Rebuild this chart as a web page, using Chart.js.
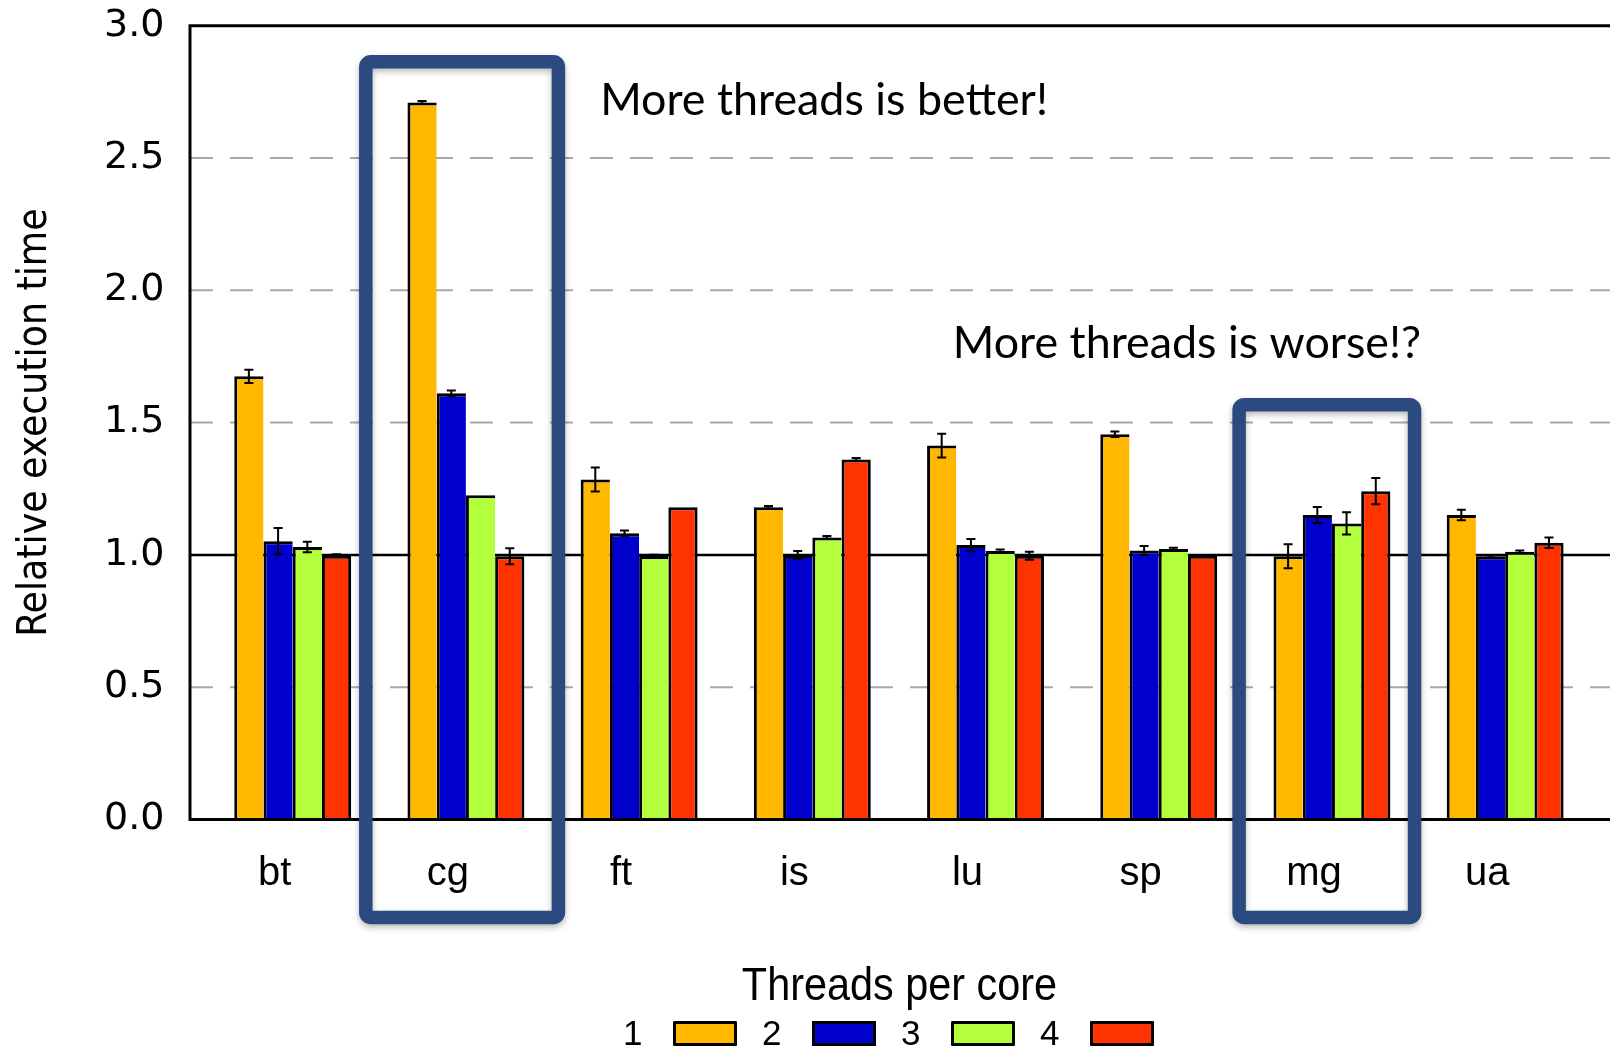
<!DOCTYPE html>
<html>
<head>
<meta charset="utf-8">
<script src="https://cdn.jsdelivr.net/npm/chart.js@4.4.0/dist/chart.umd.min.js"></script>
<style>
  html, body { margin: 0; padding: 0; background: #fff; overflow: hidden; }
  #wrap { position: absolute; left: 0; top: 0; width: 1700px; height: 1048px; }
</style>
</head>
<body>
<div id="wrap"><canvas id="c" width="1700" height="1048"></canvas></div>
<script>
// NAS benchmarks, execution time relative to the best configuration
const categories = ['bt', 'cg', 'ft', 'is', 'lu', 'sp', 'mg', 'ua'];
const seriesLabels = ['1', '2', '3', '4'];
const threads1 = [1.675, 2.710, 1.285, 1.180, 1.413, 1.456, 0.995, 1.151];
const threads2 = [1.052, 1.611, 1.082, 1.000, 1.037, 1.017, 1.151, 0.995];
const threads3 = [1.030, 1.225, 0.996, 1.066, 1.015, 1.022, 1.119, 1.012];
const threads4 = [0.997, 0.995, 1.180, 1.361, 0.997, 0.997, 1.241, 1.046];
// half-width of the error bars
const err1 = [0.025, 0.005, 0.045, 0.005, 0.045, 0.010, 0.045, 0.020];
const err2 = [0.050, 0.010, 0.010, 0.015, 0.023, 0.017, 0.030, 0.005];
const err3 = [0.020, 0.000, 0.005, 0.005, 0.005, 0.005, 0.042, 0.005];
const err4 = [0.005, 0.030, 0.000, 0.005, 0.015, 0.000, 0.050, 0.020];
const yTickStep = 0.5;
const yMin = 0, yMax = 3;

const seriesValues = [threads1, threads2, threads3, threads4];
const seriesErrors = [err1, err2, err3, err4];
const seriesColors = ['#FFB700', '#0000CD', '#B3FF3C', '#FF3300'];

const SANS = '"Liberation Sans", Arial, sans-serif';
const WIDE = '"DejaVu Sans", sans-serif';
const COND = '"DejaVu Sans Condensed", "Liberation Sans", sans-serif';
const PLOT_TOP = 25.7;

// dashed grid + reference line at 1.0 drawn under the bars
const gridPlugin = {
  id: 'gridLines',
  beforeDatasetsDraw(chart) {
    const { ctx, chartArea: a, scales: { y } } = chart;
    ctx.save();
    y.ticks.forEach(t => {
      if (t.value <= yMin || t.value >= yMax) return;
      const py = y.getPixelForValue(t.value);
      ctx.beginPath();
      if (t.value === 1) {
        ctx.setLineDash([]);
        ctx.strokeStyle = '#000';
        ctx.lineWidth = 2.5;
      } else {
        ctx.setLineDash([23, 17]);
        ctx.strokeStyle = '#a8a8a8';
        ctx.lineWidth = 2;
      }
      ctx.moveTo(a.left, py);
      ctx.lineTo(a.right, py);
      ctx.stroke();
    });
    ctx.restore();
  }
};

// plot frame and error bars
const overlayPlugin = {
  id: 'overlay',
  afterDatasetsDraw(chart) {
    const { ctx, chartArea: a, scales: { y } } = chart;
    ctx.save();
    ctx.strokeStyle = '#000';
    ctx.lineWidth = 2;
    seriesErrors.forEach((errs, i) => {
      const meta = chart.getDatasetMeta(i);
      meta.data.forEach((bar, j) => {
        const v = seriesValues[i][j], e = errs[j];
        if (!e) return;
        const y0 = y.getPixelForValue(v - e), y1 = y.getPixelForValue(v + e);
        ctx.beginPath();
        ctx.moveTo(bar.x, y0); ctx.lineTo(bar.x, y1);
        ctx.moveTo(bar.x - 4.5, y0); ctx.lineTo(bar.x + 4.5, y0);
        ctx.moveTo(bar.x - 4.5, y1); ctx.lineTo(bar.x + 4.5, y1);
        ctx.stroke();
      });
    });
    ctx.lineWidth = 3;
    ctx.beginPath();
    ctx.moveTo(a.right + 2, a.top);
    ctx.lineTo(a.left, a.top);
    ctx.lineTo(a.left, a.bottom);
    ctx.lineTo(a.right + 2, a.bottom);
    ctx.stroke();
    ctx.restore();
  }
};

// highlight boxes and their captions, in data coordinates
const highlights = [
  { x0: 1 - 0.578, x1: 1 + 0.534, y0: -0.37, y1: 2.864 },
  { x0: 6 - 0.536, x1: 6 + 0.477, y0: -0.37, y1: 1.567 }
];
const captions = [
  { text: 'More threads is better!', x: 1.775, y: 2.662 },
  { text: 'More threads is worse!?', x: 3.811, y: 1.743 }
];

const annotationPlugin = {
  id: 'annotations',
  afterDraw(chart) {
    const { ctx, scales: { x, y } } = chart;
    ctx.save();
    highlights.forEach(h => {
      const l = x.getPixelForValue(h.x0), r = x.getPixelForValue(h.x1);
      const t = y.getPixelForValue(h.y1), b = y.getPixelForValue(h.y0);
      ctx.shadowColor = 'rgba(0,0,0,0.28)';
      ctx.shadowBlur = 6;
      ctx.shadowOffsetY = 3;
      ctx.strokeStyle = '#2B4A7F';
      ctx.lineWidth = 13.5;
      ctx.lineJoin = 'round';
      ctx.beginPath();
      ctx.roundRect(l, t, r - l, b - t, 5);
      ctx.stroke();
    });
    ctx.shadowColor = 'transparent';
    ctx.shadowBlur = 0; ctx.shadowOffsetY = 0;
    ctx.fillStyle = '#000';
    ctx.font = '44.8px Lato, "Open Sans", sans-serif';
    ctx.textAlign = 'left';
    ctx.textBaseline = 'alphabetic';
    captions.forEach(c => {
      ctx.fillText(c.text, x.getPixelForValue(c.x), y.getPixelForValue(c.y));
    });

    // key: "Threads per core" followed by 1 [] 2 [] 3 [] 4 []
    ctx.save();
    ctx.font = '46px ' + SANS;
    ctx.textAlign = 'center';
    ctx.translate(899.5, 1000);
    ctx.scale(0.9, 1);
    ctx.fillText('Threads per core', 0, 0);
    ctx.restore();
    ctx.font = '35px ' + SANS;
    ctx.textAlign = 'left';
    chart.data.datasets.forEach((ds, i) => {
      const ox = 623 + i * 139;
      ctx.fillStyle = '#000';
      ctx.fillText(ds.label, ox, 1045);
      ctx.fillStyle = ds.backgroundColor;
      ctx.fillRect(ox + 50, 1021, 64, 25);
      ctx.strokeStyle = '#000';
      ctx.lineWidth = 3;
      ctx.strokeRect(ox + 51.5, 1022.5, 61, 22);
    });
    ctx.restore();
  }
};

const chart = new Chart(document.getElementById('c'), {
  type: 'bar',
  data: {
    datasets: seriesValues.map((vals, i) => ({
      label: seriesLabels[i],
      data: vals.map((v, j) => ({ x: j, y: v })),
      backgroundColor: seriesColors[i],
      borderColor: '#000',
      borderSkipped: false,
      borderWidth: { top: 3, left: 3, bottom: 0, right: i === seriesValues.length - 1 ? 3 : 0 },
      categoryPercentage: 0.675,
      barPercentage: 1
    }))
  },
  options: {
    responsive: false,
    animation: false,
    devicePixelRatio: 1,
    layout: { autoPadding: false, padding: { top: PLOT_TOP, right: 0, bottom: 0, left: 0 } },
    plugins: { legend: { display: false }, tooltip: { enabled: false } },
    scales: {
      x: {
        type: 'linear',
        min: -0.593,
        max: 8.125,
        offset: false,
        grid: { display: false },
        border: { display: false },
        afterFit(s) {
          s.height = 228.5;
          s.paddingLeft = 0; s.paddingRight = 0;
        },
        ticks: {
          stepSize: 1,
          includeBounds: false,
          autoSkip: false,
          maxRotation: 0,
          labelOffset: -18,
          padding: 22,
          color: '#000',
          font: { family: SANS, size: 40 },
          callback: v => (categories[v] !== undefined ? categories[v] : '')
        }
      },
      y: {
        min: yMin,
        max: yMax,
        afterFit(s) {
          s.width = 190;
          s.paddingTop = 0; s.paddingBottom = 0;
        },
        grid: { display: false },
        border: { display: false },
        ticks: {
          stepSize: yTickStep,
          padding: 17.5,
          color: '#000',
          font: { family: WIDE, size: 38 },
          callback: v => v.toFixed(1)
        },
        title: {
          display: true,
          text: 'Relative execution time',
          color: '#000',
          font: { family: COND, size: 40.4 },
          padding: { top: 11, bottom: 0 }
        }
      }
    }
  },
  plugins: [gridPlugin, overlayPlugin, annotationPlugin]
});

// pin the top of the plot area
for (let k = 0; k < 4; k++) {
  const d = chart.chartArea.top - PLOT_TOP;
  if (Math.abs(d) < 0.2) break;
  chart.config.options.layout.padding.top -= d;
  chart.update();
}
</script>
</body>
</html>
